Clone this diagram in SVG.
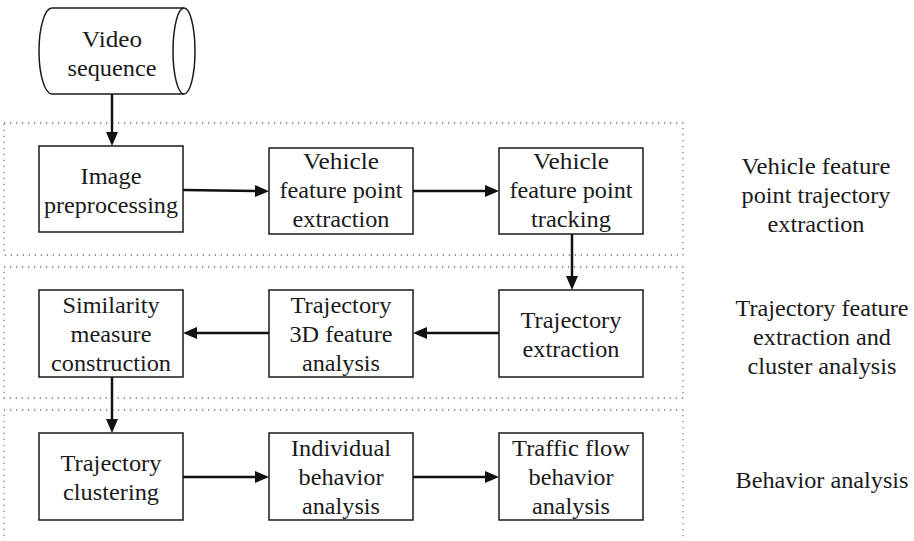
<svg xmlns="http://www.w3.org/2000/svg" width="914" height="541" viewBox="0 0 914 541">
  <style>
    .box { fill: #ffffff; stroke: #1a1a1a; stroke-width: 1.5; }
    .grp { fill: none; stroke: #7a7a7a; stroke-width: 1.3; stroke-dasharray: 1.3 4.7; }
    .conn { stroke: #111111; stroke-width: 2.5; fill: none; marker-end: url(#head); }
  </style>
  <defs>
    <marker id="head" markerUnits="userSpaceOnUse" markerWidth="16" markerHeight="14" refX="4" refY="6" orient="auto">
      <path d="M0,0 L14,6 L0,12 Z" fill="#111111"/>
    </marker>
  </defs>
  <rect width="914" height="541" fill="#ffffff"/>

  <!-- stage groups (dotted frames) -->
  <g id="stage-groups">
    <rect class="grp" x="4" y="123" width="679" height="132"/>
    <rect class="grp" x="4" y="267" width="679" height="131"/>
    <rect class="grp" x="4" y="410" width="679" height="140"/>
  </g>

  <g font-family="Liberation Serif, Times New Roman, serif" font-size="23" fill="#1a1a1a" text-anchor="middle">
  <!-- stage captions -->
  <g id="stage-captions">
    <text x="816" y="174" textLength="149" lengthAdjust="spacingAndGlyphs">Vehicle feature</text>
    <text x="816" y="203" textLength="149" lengthAdjust="spacingAndGlyphs">point trajectory</text>
    <text x="816" y="232" textLength="97" lengthAdjust="spacingAndGlyphs">extraction</text>
    <text x="822" y="316" textLength="173" lengthAdjust="spacingAndGlyphs">Trajectory feature</text>
    <text x="822" y="345" textLength="138" lengthAdjust="spacingAndGlyphs">extraction and</text>
    <text x="822" y="374" textLength="149" lengthAdjust="spacingAndGlyphs">cluster analysis</text>
    <text x="822" y="488" textLength="173" lengthAdjust="spacingAndGlyphs">Behavior analysis</text>
  </g>

  <!-- connectors -->
  <g id="connectors">
    <line class="conn" x1="112" y1="94" x2="112" y2="136"/>
    <line class="conn" x1="183" y1="190" x2="259" y2="191"/>
    <line class="conn" x1="413" y1="191" x2="489" y2="191"/>
    <line class="conn" x1="572" y1="234" x2="572" y2="280"/>
    <line class="conn" x1="499" y1="333" x2="423" y2="333"/>
    <line class="conn" x1="269" y1="333" x2="193" y2="333"/>
    <line class="conn" x1="112" y1="377" x2="112" y2="423"/>
    <line class="conn" x1="183" y1="477" x2="259" y2="477"/>
    <line class="conn" x1="413" y1="477" x2="489" y2="477"/>
  </g>

  <!-- source: stored video -->
  <g id="video-sequence">
    <path class="box" d="M52,8 L184,8 A11,43 0 0 1 184,94 L52,94 A13,43 0 0 1 52,8 Z"/>
    <path d="M184,8 A11,43 0 0 0 184,94" fill="none" stroke="#1a1a1a" stroke-width="1.5"/>
    <text x="112" y="47" textLength="60" lengthAdjust="spacingAndGlyphs">Video</text>
    <text x="112" y="76" textLength="89" lengthAdjust="spacingAndGlyphs">sequence</text>
  </g>

  <g id="image-preprocessing">
    <rect class="box" x="39" y="146" width="144" height="86"/>
    <text x="111" y="184" textLength="61" lengthAdjust="spacingAndGlyphs">Image</text>
    <text x="111" y="213" textLength="134" lengthAdjust="spacingAndGlyphs">preprocessing</text>
  </g>

  <g id="feature-point-extraction">
    <rect class="box" x="269" y="148" width="144" height="86"/>
    <text x="341" y="169" textLength="76" lengthAdjust="spacingAndGlyphs">Vehicle</text>
    <text x="341" y="198" textLength="123" lengthAdjust="spacingAndGlyphs">feature point</text>
    <text x="341" y="227" textLength="97" lengthAdjust="spacingAndGlyphs">extraction</text>
  </g>

  <g id="feature-point-tracking">
    <rect class="box" x="499" y="148" width="144" height="86"/>
    <text x="571" y="169" textLength="76" lengthAdjust="spacingAndGlyphs">Vehicle</text>
    <text x="571" y="198" textLength="123" lengthAdjust="spacingAndGlyphs">feature point</text>
    <text x="571" y="227" textLength="80" lengthAdjust="spacingAndGlyphs">tracking</text>
  </g>

  <g id="trajectory-extraction">
    <rect class="box" x="499" y="290" width="144" height="87"/>
    <text x="571" y="328" textLength="101" lengthAdjust="spacingAndGlyphs">Trajectory</text>
    <text x="571" y="357" textLength="97" lengthAdjust="spacingAndGlyphs">extraction</text>
  </g>

  <g id="trajectory-3d-analysis">
    <rect class="box" x="269" y="290" width="144" height="87"/>
    <text x="341" y="313" textLength="101" lengthAdjust="spacingAndGlyphs">Trajectory</text>
    <text x="341" y="342" textLength="103" lengthAdjust="spacingAndGlyphs">3D feature</text>
    <text x="341" y="371" textLength="78" lengthAdjust="spacingAndGlyphs">analysis</text>
  </g>

  <g id="similarity-measure">
    <rect class="box" x="39" y="290" width="144" height="87"/>
    <text x="111" y="313" textLength="97" lengthAdjust="spacingAndGlyphs">Similarity</text>
    <text x="111" y="342" textLength="81" lengthAdjust="spacingAndGlyphs">measure</text>
    <text x="111" y="371" textLength="120" lengthAdjust="spacingAndGlyphs">construction</text>
  </g>

  <g id="trajectory-clustering">
    <rect class="box" x="39" y="433" width="144" height="87"/>
    <text x="111" y="471" textLength="101" lengthAdjust="spacingAndGlyphs">Trajectory</text>
    <text x="111" y="500" textLength="96" lengthAdjust="spacingAndGlyphs">clustering</text>
  </g>

  <g id="individual-behavior">
    <rect class="box" x="269" y="433" width="144" height="87"/>
    <text x="341" y="456" textLength="100" lengthAdjust="spacingAndGlyphs">Individual</text>
    <text x="341" y="485" textLength="85" lengthAdjust="spacingAndGlyphs">behavior</text>
    <text x="341" y="514" textLength="78" lengthAdjust="spacingAndGlyphs">analysis</text>
  </g>

  <g id="traffic-flow-behavior">
    <rect class="box" x="499" y="433" width="144" height="87"/>
    <text x="571" y="456" textLength="118" lengthAdjust="spacingAndGlyphs">Traffic flow</text>
    <text x="571" y="485" textLength="85" lengthAdjust="spacingAndGlyphs">behavior</text>
    <text x="571" y="514" textLength="78" lengthAdjust="spacingAndGlyphs">analysis</text>
  </g>
  </g>
</svg>
